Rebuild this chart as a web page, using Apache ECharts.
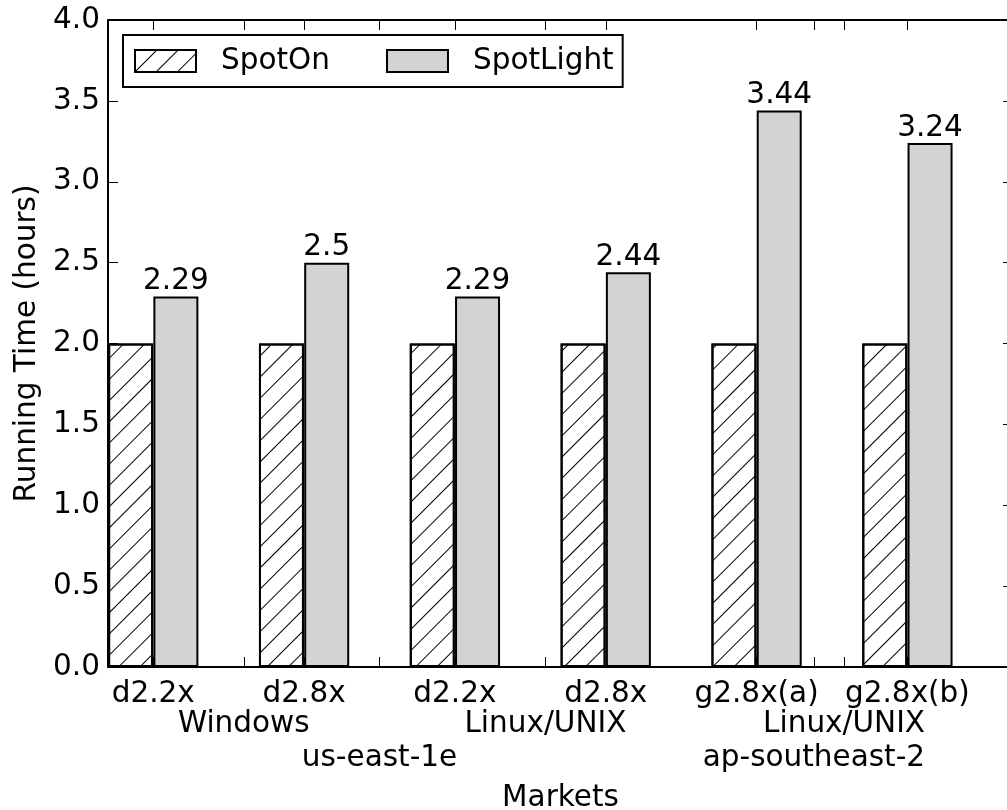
<!DOCTYPE html>
<html>
<head>
<meta charset="utf-8">
<script src="https://cdn.jsdelivr.net/npm/echarts@6/dist/echarts.min.js"></script>
<style>
  html, body { margin: 0; padding: 0; background: #fff; }
  #chart { width: 1007px; height: 810px; }
</style>
</head>
<body>
<div id="chart"></div>
<script>
// data
const markets = ['d2.2x', 'd2.8x', 'd2.2x', 'd2.8x', 'g2.8x(a)', 'g2.8x(b)']
const spotOn = [2.0, 2.0, 2.0, 2.0, 2.0, 2.0]
const spotLight = [2.29, 2.5, 2.29, 2.44, 3.44, 3.24]
const platforms = ['Windows', 'Linux/UNIX', 'Linux/UNIX']
const regions = ['us-east-1e', 'ap-southeast-2']

// where the 2nd / 3rd row labels sit on the x scale
const platformPos = [0.9, 2.9, 4.88]
const regionPos = [1.8, 4.68]

const FONT = 'DejaVu Sans'
const FS = 29.5
const BAR_W = 0.3

const marketPos = markets.map((m, i) => i + BAR_W)
const allTicks = marketPos.concat(platformPos, regionPos).sort((a, b) => a - b)

const chart = echarts.init(document.getElementById('chart'))

const hatch = {
    symbol: 'rect',
    symbolSize: 1,
    dashArrayX: [1, 0],
    dashArrayY: [1, 14],
    rotation: -Math.PI / 4,
    color: '#000'
}

// one hidden-line axis per row of x labels
const labelRow = (pos, names, margin) => ({
    type: 'value',
    position: 'bottom',
    min: 0,
    max: 6,
    axisLine: { show: false, onZero: false },
    axisTick: { show: false },
    splitLine: { show: false },
    axisLabel: {
        customValues: pos,
        showMinLabel: true,
        showMaxLabel: true,
        hideOverlap: false,
        fontSize: FS,
        margin: margin,
        color: '#000',
        fontFamily: FONT,
        formatter: (v) => {
            const k = pos.findIndex(p => Math.abs(p - v) < 1e-6)
            return k < 0 ? '' : names[k]
        }
    }
})

const lineStyle = { show: true, onZero: false, lineStyle: { color: '#000', width: 2 } }
const xTicks = { show: true, inside: true, length: 10, customValues: allTicks, lineStyle: { color: '#000', width: 1 } }
const yTicks = { show: true, inside: true, length: 10, lineStyle: { color: '#000', width: 1 } }

chart.setOption({
    animation: false,
    textStyle: { fontFamily: FONT },
    legend: {
        data: ['SpotOn', 'SpotLight'],
        icon: 'rect',
        left: 123,
        top: 35,
        itemWidth: 61,
        itemHeight: 22,
        itemGap: 56,
        borderColor: '#000',
        borderWidth: 2,
        borderRadius: 0,
        padding: [11, 9, 11, 11],
        textStyle: { fontSize: FS, color: '#000', fontFamily: FONT, padding: [0, 0, 0, 20] }
    },
    grid: {
        left: 108,
        right: -6,
        top: 20,
        bottom: 143,
        containLabel: false,
        outerBoundsMode: 'none'
    },
    xAxis: [
        {
            type: 'value',
            min: 0,
            max: 6,
            name: 'Markets',
            nameLocation: 'middle',
            nameGap: 116,
            nameMoveOverlap: false,
            nameTextStyle: { fontSize: FS, color: '#000', fontFamily: FONT },
            axisLine: lineStyle,
            axisTick: xTicks,
            axisLabel: {
                customValues: marketPos,
                showMinLabel: true,
                showMaxLabel: true,
                hideOverlap: false,
                fontSize: FS,
                margin: 12,
                color: '#000',
                fontFamily: FONT,
                formatter: (v) => {
                    const k = marketPos.findIndex(p => Math.abs(p - v) < 1e-6)
                    return k < 0 ? '' : markets[k]
                }
            },
            splitLine: { show: false }
        },
        {
            type: 'value',
            position: 'top',
            min: 0,
            max: 6,
            axisLine: lineStyle,
            axisTick: xTicks,
            axisLabel: { show: false },
            splitLine: { show: false }
        },
        labelRow(platformPos, platforms, 42),
        labelRow(regionPos, regions, 76)
    ],
    yAxis: [
        {
            type: 'value',
            min: 0,
            max: 4,
            interval: 0.5,
            name: 'Running Time (hours)',
            nameLocation: 'middle',
            nameRotate: 90,
            nameGap: 66,
            nameMoveOverlap: false,
            nameTextStyle: { fontSize: FS, color: '#000', fontFamily: FONT },
            axisLine: lineStyle,
            axisTick: yTicks,
            axisLabel: {
                showMinLabel: true,
                showMaxLabel: true,
                fontSize: FS,
                margin: 8,
                color: '#000',
                fontFamily: FONT,
                formatter: (v) => v.toFixed(1)
            },
            splitLine: { show: false }
        },
        {
            type: 'value',
            position: 'right',
            min: 0,
            max: 4,
            interval: 0.5,
            axisLine: lineStyle,
            axisTick: yTicks,
            axisLabel: { show: false },
            splitLine: { show: false }
        }
    ],
    series: [
        {
            name: 'SpotOn',
            type: 'bar',
            barWidth: 45,
            barGap: '-100%',
            data: spotOn.map((v, i) => [i + BAR_W / 2, v]),
            itemStyle: {
                color: '#fff',
                borderColor: '#000',
                borderWidth: 2,
                decal: hatch
            }
        },
        {
            name: 'SpotLight',
            type: 'bar',
            barWidth: 45,
            barGap: '-100%',
            data: spotLight.map((v, i) => [i + BAR_W * 1.5, v]),
            itemStyle: {
                color: '#d3d3d3',
                borderColor: '#000',
                borderWidth: 2
            },
            label: {
                show: true,
                position: 'top',
                distance: 0,
                fontSize: FS,
                color: '#000',
                fontFamily: FONT,
                formatter: (p) => String(p.value[1])
            }
        }
    ]
})
</script>
</body>
</html>
